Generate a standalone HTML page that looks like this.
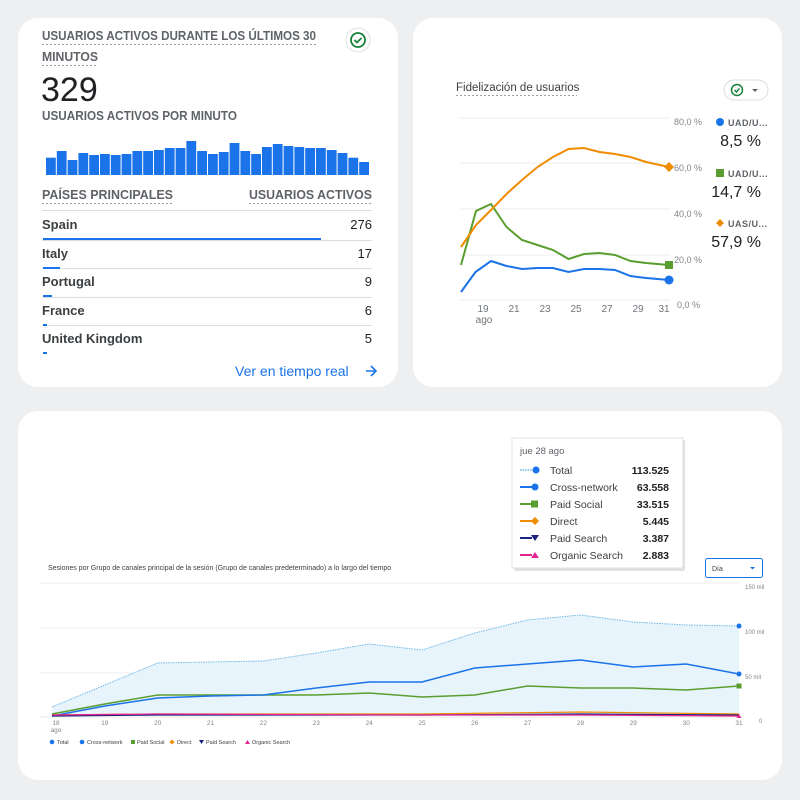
<!DOCTYPE html>
<html><head><meta charset="utf-8"><style>
html,body{margin:0;padding:0;background:#eeeff1;}
svg{display:block;font-family:"Liberation Sans",sans-serif;}
</style></head><body>
<svg width="800" height="800" viewBox="0 0 800 800" xmlns="http://www.w3.org/2000/svg">
<rect width="800" height="800" fill="#eeeff1"/>
<rect x="18" y="18" width="380" height="369" rx="20" fill="#fff"/>
<rect x="413" y="18" width="369" height="369" rx="20" fill="#fff"/>
<rect x="18" y="411" width="764" height="369" rx="20" fill="#fff"/>

<!-- Card 1 -->
<g fill="#5f6368" font-size="12.5" font-weight="bold">
<text x="42" y="40" textLength="274" lengthAdjust="spacingAndGlyphs">USUARIOS ACTIVOS DURANTE LOS ÚLTIMOS 30</text>
<text x="42" y="61" textLength="56" lengthAdjust="spacingAndGlyphs">MINUTOS</text>
<text x="42" y="120" textLength="195" lengthAdjust="spacingAndGlyphs">USUARIOS ACTIVOS POR MINUTO</text>
<text x="42" y="199" textLength="131" lengthAdjust="spacingAndGlyphs">PAÍSES PRINCIPALES</text>
<text x="249" y="199" textLength="123" lengthAdjust="spacingAndGlyphs">USUARIOS ACTIVOS</text>
</g>
<g stroke="#9aa0a6" stroke-dasharray="2,2" stroke-width="1">
<line x1="42" y1="44.5" x2="317" y2="44.5"/><line x1="42" y1="65.5" x2="98" y2="65.5"/>
<line x1="42" y1="203.5" x2="173" y2="203.5"/><line x1="249" y1="203.5" x2="372" y2="203.5"/>
</g>
<circle cx="358" cy="40" r="12" fill="#fff" stroke="#e0e0e0"/>
<circle cx="358" cy="40" r="7" fill="none" stroke="#188038" stroke-width="1.8"/>
<path d="M354.5 40 l2.5 2.5 l4.5 -4.5" fill="none" stroke="#188038" stroke-width="1.8"/>
<text x="41" y="101" font-size="34" fill="#202124">329</text>
<g fill="#1a73e8">
<rect x="46" y="157.7" width="9.8" height="17.3"/><rect x="56.8" y="151" width="9.8" height="24"/><rect x="67.6" y="160" width="9.8" height="15"/><rect x="78.4" y="153" width="9.8" height="22"/><rect x="89.2" y="155" width="9.8" height="20"/><rect x="100" y="154" width="9.8" height="21"/><rect x="110.8" y="155" width="9.8" height="20"/><rect x="121.6" y="154" width="9.8" height="21"/><rect x="132.4" y="151" width="9.8" height="24"/><rect x="143.2" y="151" width="9.8" height="24"/><rect x="154" y="150" width="9.8" height="25"/><rect x="164.8" y="148" width="9.8" height="27"/><rect x="175.6" y="148" width="9.8" height="27"/><rect x="186.4" y="141" width="9.8" height="34"/><rect x="197.2" y="151" width="9.8" height="24"/><rect x="208" y="154" width="9.8" height="21"/><rect x="218.8" y="152" width="9.8" height="23"/><rect x="229.6" y="143" width="9.8" height="32"/><rect x="240.4" y="151" width="9.8" height="24"/><rect x="251.2" y="154" width="9.8" height="21"/><rect x="262" y="147" width="9.8" height="28"/><rect x="272.8" y="144" width="9.8" height="31"/><rect x="283.6" y="146" width="9.8" height="29"/><rect x="294.4" y="147" width="9.8" height="28"/><rect x="305.2" y="148" width="9.8" height="27"/><rect x="316" y="148" width="9.8" height="27"/><rect x="326.8" y="150" width="9.8" height="25"/><rect x="337.6" y="153" width="9.8" height="22"/><rect x="348.4" y="157.7" width="9.8" height="17.3"/><rect x="359.2" y="162" width="9.8" height="13"/>
</g>
<g stroke="#dadce0" stroke-width="1">
<line x1="42" y1="210.5" x2="372" y2="210.5"/><line x1="42" y1="240.5" x2="372" y2="240.5"/><line x1="42" y1="268.5" x2="372" y2="268.5"/><line x1="42" y1="297.5" x2="372" y2="297.5"/><line x1="42" y1="325.5" x2="372" y2="325.5"/>
</g>
<g fill="#1a73e8">
<rect x="43" y="238" width="278" height="2"/><rect x="43" y="267" width="17" height="2"/><rect x="43" y="295" width="9" height="2"/><rect x="43" y="324" width="4" height="2"/><rect x="43" y="352" width="4" height="2"/>
</g>
<g font-size="13" fill="#202124">
<text x="42" y="229" font-weight="bold" fill="#3c4043">Spain</text><text x="372" y="229" text-anchor="end">276</text>
<text x="42" y="258" font-weight="bold" fill="#3c4043">Italy</text><text x="372" y="258" text-anchor="end">17</text>
<text x="42" y="286" font-weight="bold" fill="#3c4043">Portugal</text><text x="372" y="286" text-anchor="end">9</text>
<text x="42" y="315" font-weight="bold" fill="#3c4043">France</text><text x="372" y="315" text-anchor="end">6</text>
<text x="42" y="343" font-weight="bold" fill="#3c4043">United Kingdom</text><text x="372" y="343" text-anchor="end">5</text>
</g>
<text x="235" y="376" font-size="14" fill="#1a73e8">Ver en tiempo real</text>
<path d="M366 371 h10 M371 366 l5 5 l-5 5" fill="none" stroke="#1a73e8" stroke-width="1.6"/>

<!-- Card 2 -->
<text x="456" y="91" font-size="11.5" fill="#3c4043">Fidelización de usuarios</text>
<line x1="456" y1="95.5" x2="577" y2="95.5" stroke="#9aa0a6" stroke-dasharray="2,2"/>
<rect x="724" y="80" width="44" height="20" rx="10" fill="#fff" stroke="#dadce0"/>
<circle cx="737" cy="90" r="5.5" fill="none" stroke="#188038" stroke-width="1.5"/>
<path d="M734.5 90 l2 2 l3 -3.5" fill="none" stroke="#188038" stroke-width="1.5"/>
<path d="M752 89 l3 3 l3 -3z" fill="#5f6368"/>
<g stroke="#ececec" stroke-width="1">
<line x1="460" y1="118" x2="670" y2="118"/><line x1="460" y1="163" x2="670" y2="163"/><line x1="460" y1="209" x2="670" y2="209"/><line x1="460" y1="255" x2="670" y2="255"/><line x1="460" y1="300" x2="670" y2="300"/>
</g>
<g font-size="9" fill="#80868b">
<text x="674" y="125">80,0 %</text><text x="674" y="171">60,0 %</text><text x="674" y="217">40,0 %</text><text x="674" y="263">20,0 %</text><text x="677" y="308">0,0 %</text>
</g>
<g font-size="10" fill="#70757a" text-anchor="middle">
<text x="483" y="312">19</text><text x="484" y="323">ago</text><text x="514" y="312">21</text><text x="545" y="312">23</text><text x="576" y="312">25</text><text x="607" y="312">27</text><text x="638" y="312">29</text><text x="664" y="312">31</text>
</g>
<polyline fill="none" stroke="#1a73e8" stroke-width="2" points="461,292 475.5,272 491,261 506.5,266 522,269 537.5,268 553,268 568.5,272 584,269 599.5,269 615,270 630.5,276 646,278 669,280"/>
<polyline fill="none" stroke="#5a9e2f" stroke-width="2" points="461,265 476,211 491,204 506.5,227 522,240 537.5,245 553,250 568.5,259 584,254 599.5,253 615,255 630.5,261 646,263 669,265"/>
<polyline fill="none" stroke="#f08c00" stroke-width="2" points="461,247 476,225 491,210 506.5,194 522,180 537.5,167 553,157 568.5,149 584,148 599.5,152 615,154 630.5,157 646,162 669,167"/>
<circle cx="669" cy="280" r="4.5" fill="#1a73e8"/>
<rect x="665" y="261" width="8" height="8" fill="#5a9e2f"/>
<path d="M669 162 l5 5 l-5 5 l-5 -5z" fill="#f08c00"/>
<circle cx="720" cy="122" r="4" fill="#1a73e8"/>
<text x="728" y="126" font-size="9" fill="#5f6368" font-weight="bold" letter-spacing="0.5">UAD/U...</text>
<text x="761" y="146" font-size="16" fill="#202124" text-anchor="end">8,5 %</text>
<rect x="716" y="169" width="8" height="8" fill="#5a9e2f"/>
<text x="728" y="177" font-size="9" fill="#5f6368" font-weight="bold" letter-spacing="0.5">UAD/U...</text>
<text x="761" y="197" font-size="16" fill="#202124" text-anchor="end">14,7 %</text>
<path d="M720 219 l4 4 l-4 4 l-4 -4z" fill="#f08c00"/>
<text x="728" y="227" font-size="9" fill="#5f6368" font-weight="bold" letter-spacing="0.5">UAS/U...</text>
<text x="761" y="247" font-size="16" fill="#202124" text-anchor="end">57,9 %</text>

<!-- Card 3 -->
<text x="48" y="570" font-size="7" fill="#3c4043">Sesiones por Grupo de canales principal de la sesión (Grupo de canales predeterminado) a lo largo del tiempo</text>
<rect x="705.5" y="558.5" width="57" height="19" rx="2" fill="#fff" stroke="#1a73e8"/>
<text x="712" y="571" font-size="7" fill="#3c4043">Día</text>
<path d="M750 567 l2.5 2.5 l2.5 -2.5z" fill="#1a73e8"/>
<g stroke="#eeeeee" stroke-width="1">
<line x1="40" y1="583" x2="740" y2="583"/><line x1="40" y1="628" x2="740" y2="628"/><line x1="40" y1="673" x2="740" y2="673"/>
</g>
<line x1="40" y1="717" x2="740" y2="717" stroke="#e8e8e8"/>
<g font-size="6" fill="#80868b">
<text x="745" y="589">150 mil</text><text x="745" y="634">100 mil</text><text x="745" y="679">50 mil</text><text x="759" y="723">0</text>
</g>
<g font-size="6.5" fill="#80868b" text-anchor="middle">
<text x="56" y="725">18</text><text x="56" y="732">ago</text><text x="104.8" y="725">19</text><text x="157.7" y="725">20</text><text x="210.5" y="725">21</text><text x="263.4" y="725">22</text><text x="316.2" y="725">23</text><text x="369.1" y="725">24</text><text x="422" y="725">25</text><text x="474.8" y="725">26</text><text x="527.6" y="725">27</text><text x="580.5" y="725">28</text><text x="633.3" y="725">29</text><text x="686.2" y="725">30</text><text x="739" y="725">31</text>
</g>
<polygon fill="#e8f4fc" points="52,707 104.8,685 157.7,663 210.5,662 263.4,661 316.2,653 369.1,644 422,650 474.8,633 527.6,620 580.5,615 633.3,622 686.2,625 739,626 739,716 52,716"/>
<polyline fill="none" stroke="#6fb8e6" stroke-width="1" stroke-dasharray="1.5,1" points="52,707 104.8,685 157.7,663 210.5,662 263.4,661 316.2,653 369.1,644 422,650 474.8,633 527.6,620 580.5,615 633.3,622 686.2,625 739,626"/>
<polyline fill="none" stroke="#5a9e2f" stroke-width="1.5" points="52,714 104.8,704 157.7,695 210.5,695 263.4,695 316.2,695 369.1,693 422,697 474.8,695 527.6,686 580.5,688 633.3,688 686.2,690 739,686"/>
<polyline fill="none" stroke="#1a73e8" stroke-width="1.5" points="52,716 104.8,706 157.7,698 210.5,696 263.4,695 316.2,688 369.1,682 422,682 474.8,668 527.6,664 580.5,660 633.3,667 686.2,664 739,674"/>
<polyline fill="none" stroke="#f08c00" stroke-width="1.2" points="52,715 157.7,714 422,714 580.5,712 739,714"/>
<polyline fill="none" stroke="#1a237e" stroke-width="1.2" points="52,716 157.7,715 422,715 580.5,714 739,715"/>
<polyline fill="none" stroke="#e52592" stroke-width="1.2" points="52,715 157.7,714 422,715 580.5,715 739,716"/>
<circle cx="739" cy="674" r="2.5" fill="#1a73e8"/>
<rect x="736.5" y="683.5" width="5" height="5" fill="#5a9e2f"/>
<circle cx="739" cy="626" r="2.5" fill="#1a73e8"/>
<path d="M736.5 718 l2.5 -4 l2.5 4z" fill="#e52592"/>
<g font-size="5.5" fill="#3c4043">
<circle cx="52" cy="742" r="2.3" fill="#1a73e8"/><text x="57" y="744">Total</text>
<circle cx="82" cy="742" r="2.3" fill="#1a73e8"/><text x="87" y="744">Cross-network</text>
<rect x="131" y="740" width="4" height="4" fill="#5a9e2f"/><text x="137" y="744">Paid Social</text>
<path d="M172 739.5 l2.5 2.5 l-2.5 2.5 l-2.5 -2.5z" fill="#f08c00"/><text x="177" y="744">Direct</text>
<path d="M199 740 h5 l-2.5 4z" fill="#1a237e"/><text x="206" y="744">Paid Search</text>
<path d="M245 744 l2.5 -4 l2.5 4z" fill="#e52592"/><text x="252" y="744">Organic Search</text>
</g>

<!-- Tooltip -->
<rect x="514" y="440" width="171" height="131" fill="#000" opacity="0.12" rx="2"/>
<rect x="512" y="438" width="171" height="130" fill="#fff" stroke="#e0e0e0"/>
<text x="520" y="454" font-size="9.5" fill="#5f6368">jue 28 ago</text>
<g font-size="10.5" fill="#3c4043">
<line x1="520" y1="470" x2="532" y2="470" stroke="#6fb8e6" stroke-dasharray="1.5,1" stroke-width="1.5"/><circle cx="536" cy="470" r="3.5" fill="#1a73e8"/><text x="550" y="474">Total</text>
<line x1="520" y1="487" x2="532" y2="487" stroke="#1a73e8" stroke-width="2"/><circle cx="535" cy="487" r="3.5" fill="#1a73e8"/><text x="550" y="491">Cross-network</text>
<line x1="520" y1="504" x2="532" y2="504" stroke="#5a9e2f" stroke-width="2"/><rect x="531" y="500.5" width="7" height="7" fill="#5a9e2f"/><text x="550" y="508">Paid Social</text>
<line x1="520" y1="521" x2="532" y2="521" stroke="#f08c00" stroke-width="2"/><path d="M535 517 l4 4 l-4 4 l-4 -4z" fill="#f08c00"/><text x="550" y="525">Direct</text>
<line x1="520" y1="538" x2="532" y2="538" stroke="#1a237e" stroke-width="2"/><path d="M531 535 h8 l-4 6z" fill="#1a237e"/><text x="550" y="542">Paid Search</text>
<line x1="520" y1="555" x2="532" y2="555" stroke="#e52592" stroke-width="2"/><path d="M531 558 l4 -6 l4 6z" fill="#e52592"/><text x="550" y="559">Organic Search</text>
</g>
<g font-size="10.5" fill="#202124" font-weight="bold" text-anchor="end">
<text x="669" y="474">113.525</text><text x="669" y="491">63.558</text><text x="669" y="508">33.515</text><text x="669" y="525">5.445</text><text x="669" y="542">3.387</text><text x="669" y="559">2.883</text>
</g>
</svg>
</body></html>
